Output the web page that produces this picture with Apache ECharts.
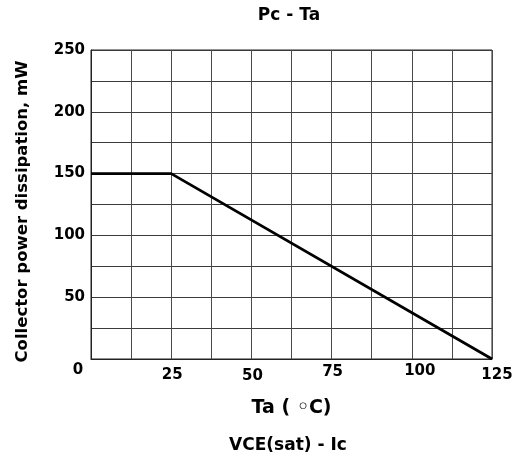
<!DOCTYPE html>
<html>
<head>
<meta charset="utf-8">
<script src="https://cdn.jsdelivr.net/npm/echarts@6/dist/echarts.min.js"></script>
<style>
  html, body { margin: 0; padding: 0; background: #fff; }
  #chart { width: 518px; height: 463px; }
</style>
</head>
<body>
<div id="chart"></div>
<script>
// Pc - Ta derating curve
var taValues = [0, 25, 125];
var pcValues = [150, 150, 0];
var xTickLabels = [0, 25, 50, 75, 100, 125];
var yTickLabels = [50, 100, 150, 200, 250];

var FONT = '"DejaVu Sans", Arial, sans-serif';

// the scanned datasheet has its x labels a bit staggered
var xLabelPad = {
    0: [0, 26, 0, 0],
    25: [5, 0, 0, 2],
    50: [6, 0, 0, 2],
    75: [2, 0, 0, 2],
    100: [1, 0, 0, 16],
    125: [5, 0, 0, 10]
};
var rich = {};
xTickLabels.forEach(function (v) {
    rich['t' + v] = { padding: xLabelPad[v], fontSize: 15, fontWeight: 'bold', fontFamily: FONT, color: '#000' };
});

var chart = echarts.init(document.getElementById('chart'));
chart.setOption({
    animation: false,
    backgroundColor: '#fff',
    title: [
        { text: 'Pc - Ta', left: 289, top: 7, textAlign: 'center', padding: 0,
          textStyle: { fontSize: 17, fontWeight: 'bold', fontFamily: FONT, color: '#000' } },
        { text: 'VCE(sat) - Ic', left: 288, top: 437, textAlign: 'center', padding: 0,
          textStyle: { fontSize: 17, fontWeight: 'bold', fontFamily: FONT, color: '#000' } }
    ],
    grid: { left: 91, right: 26, top: 50, bottom: 104, show: true, borderColor: '#222', borderWidth: 1 },
    xAxis: {
        type: 'value', min: 0, max: 125, interval: 12.5,
        name: 'Ta ( \u25E6C)', nameLocation: 'middle', nameGap: 40,
        nameTextStyle: { fontSize: 19, fontWeight: 'bold', fontFamily: FONT, color: '#000' },
        axisLine: { lineStyle: { color: '#222', width: 1 } },
        axisTick: { show: false },
        splitLine: { lineStyle: { color: '#4a4a4a', width: 1 } },
        axisLabel: {
            margin: 4, showMinLabel: true, showMaxLabel: true,
            formatter: function (v) {
                return xTickLabels.indexOf(v) >= 0 ? '{t' + v + '|' + v + '}' : '';
            },
            rich: rich
        }
    },
    yAxis: {
        type: 'value', min: 0, max: 250, interval: 25,
        name: 'Collector power dissipation, mW', nameLocation: 'middle', nameGap: 60,
        nameTextStyle: { fontSize: 16.5, fontWeight: 'bold', fontFamily: FONT, color: '#000', padding: [0, 14, 0, 0] },
        axisLine: { show: true, lineStyle: { color: '#222', width: 1 } },
        axisTick: { show: false },
        splitLine: { lineStyle: { color: '#3a3a3a', width: 1 } },
        axisLabel: {
            margin: 6, fontSize: 15, fontWeight: 'bold', fontFamily: FONT, color: '#000',
            formatter: function (v) { return yTickLabels.indexOf(v) >= 0 ? String(v) : ''; }
        }
    },
    series: [{
        type: 'line',
        data: taValues.map(function (t, i) { return [t, pcValues[i]]; }),
        symbol: 'none',
        lineStyle: { color: '#000', width: 2.8 }
    }]
});
</script>
</body>
</html>
